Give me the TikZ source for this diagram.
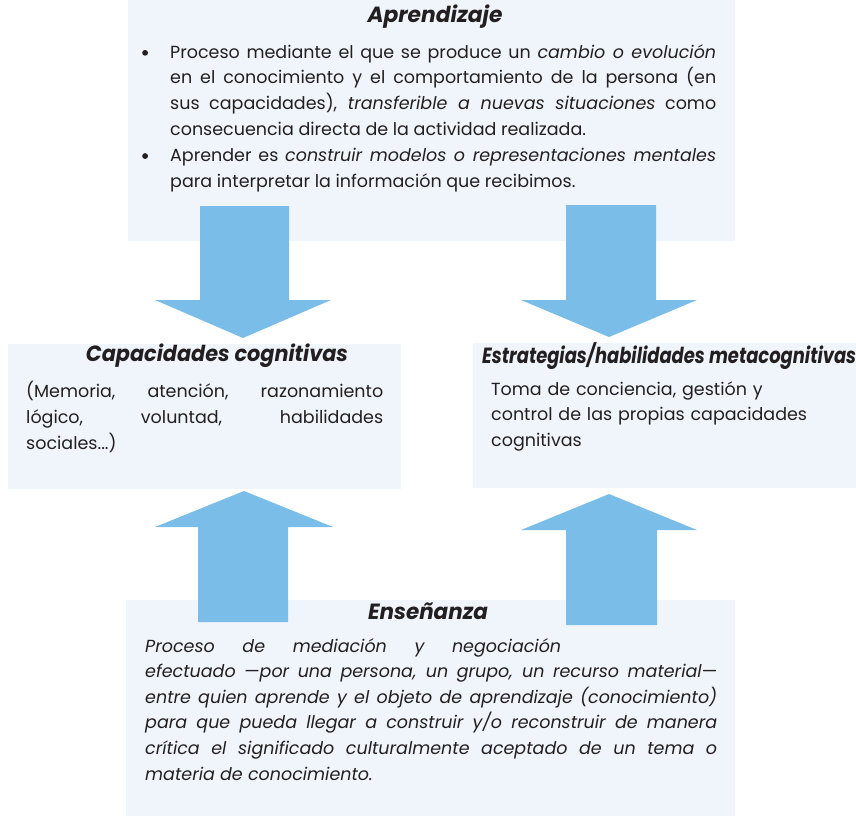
\documentclass[tikz,border=0pt]{standalone}
\usepackage{fontspec}
\setmainfont{Poppins}
\definecolor{boxbg}{HTML}{F0F5FC}
\definecolor{arrowblue}{HTML}{7ABDE8}
\definecolor{txt}{HTML}{231F20}
\newcommand{\fitw}[2]{\resizebox{#1}{\height}{#2}}
\newcommand{\mybul}{\makebox[27pt][l]{\tikz[baseline=0pt,x=1pt,y=1pt]\fill[txt] (3,5.2) circle (2.9pt);}}
\begin{document}
\begin{tikzpicture}[x=1pt,y=-1pt,
  panel/.style={fill=boxbg, draw=none, anchor=north west, inner sep=0pt, outer sep=0pt},
  ttl/.style={inner sep=0pt, font=\fontsize{22}{26}\selectfont\bfseries\itshape, text=txt},
  body/.style={inner sep=0pt, anchor=north west, align=justify, text=txt, font=\fontsize{17.5}{25.8}\selectfont},
  blockarrow/.style={fill=arrowblue, draw=none}]
\useasboundingbox (0,0) rectangle (856,816);

% panels
\node[panel, minimum width=607pt, minimum height=241pt] (apr) at (128,0) {};
\node[panel, minimum width=393pt, minimum height=145pt] (cap) at (8,344) {};
\node[panel, minimum width=383pt, minimum height=145pt] (est) at (473,343) {};
\node[panel, minimum width=609pt, minimum height=216pt] (ens) at (126,600) {};

% arrows down
\fill[blockarrow] (200,206) -- (289,206) -- (289,300) -- (331,300) -- (243,338) -- (155,300) -- (200,300) -- cycle;
\fill[blockarrow] (566,205) -- (656,205) -- (656,300) -- (697,300) -- (609,337) -- (521,300) -- (566,300) -- cycle;
% arrows up
\fill[blockarrow] (198,622) -- (288,622) -- (288,527) -- (333,527) -- (244,491) -- (155,527) -- (198,527) -- cycle;
\fill[blockarrow] (566,625) -- (657,625) -- (657,530) -- (697,530) -- (609,494) -- (521,530) -- (566,530) -- cycle;

% Aprendizaje
\node[ttl] (aprt) at (435,17) {\fitw{135pt}{Aprendizaje}};
\node[body, text width=574pt] (aprb) at (142,44) {%
\hangindent=28pt\hangafter=1\noindent\makebox[28pt][l]{\mybul}Proceso mediante el que se produce un \emph{cambio o evolución}\linebreak
en el conocimiento y el comportamiento de la persona (en\linebreak
sus capacidades), \emph{transferible a nuevas situaciones} como\linebreak
consecuencia directa de la actividad realizada.\par
\hangindent=28pt\hangafter=1\noindent\makebox[28pt][l]{\mybul}Aprender es \emph{construir modelos o representaciones mentales}\linebreak
para interpretar la información que recibimos.\par};

% Capacidades
\node[ttl] (capt) at (217,356) {\fitw{262pt}{Capacidades cognitivas}};
\node[body, text width=357pt] (capb) at (26,381) {%
(Memoria, atención, razonamiento\linebreak
lógico, voluntad, habilidades\linebreak
sociales...)};

% Estrategias
\node[ttl, anchor=west] (estt) at (482,356) {\fitw{374pt}{Estrategias/habilidades metacognitivas}};
\node[body, text width=360pt, align=left] (estb) at (491,381) {%
Toma de conciencia, gestión y\\
control de las propias capacidades\\
cognitivas};

% Enseñanza
\node[ttl] (enst) at (428,611) {\fitw{120pt}{Enseñanza}};
\node[body, text width=572pt, font=\fontsize{17.5}{25.6}\selectfont\itshape] (ensb) at (145,638) {%
\makebox[416pt][s]{Proceso de mediación y negociación}\linebreak
efectuado ---por una persona, un grupo, un recurso material---\linebreak
entre quien aprende y el objeto de aprendizaje (conocimiento)\linebreak
para que pueda llegar a construir y/o reconstruir de manera\linebreak
crítica el significado culturalmente aceptado de un tema o\linebreak
materia de conocimiento.};
\end{tikzpicture}
\end{document}
